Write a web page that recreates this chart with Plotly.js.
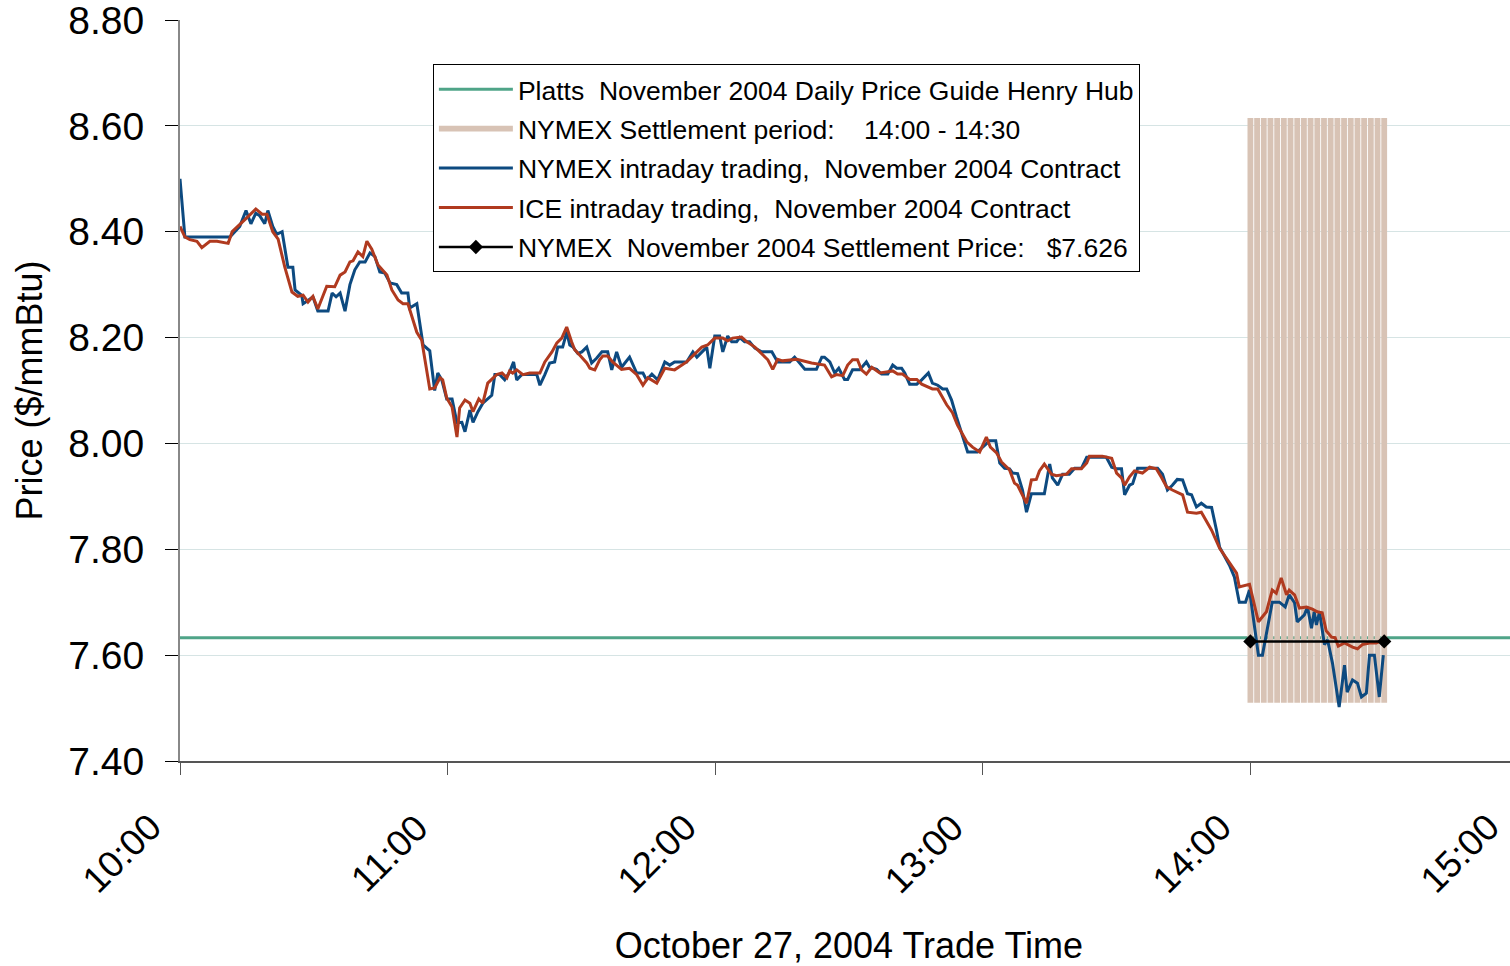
<!DOCTYPE html>
<html>
<head>
<meta charset="utf-8">
<script src="https://cdn.plot.ly/plotly-3.0.1.min.js"></script>
<style>
html, body { margin: 0; padding: 0; overflow: hidden; background: #fff; }
#chart { width: 1520px; height: 966px; }
</style>
</head>
<body>
<div id="chart"></div>
<script>
// Time is in minutes after 10:00 on October 27, 2004
const tickMinutes = [0, 60, 120, 180, 240, 300];
const tickLabels = ["10:00", "11:00", "12:00", "13:00", "14:00", "15:00"];

const seriesNames = [
  "Platts  November 2004 Daily Price Guide Henry Hub",
  "NYMEX Settlement period:    14:00 - 14:30",
  "NYMEX intraday trading,  November 2004 Contract",
  "ICE intraday trading,  November 2004 Contract",
  "NYMEX  November 2004 Settlement Price:   $7.626"
];

// Platts daily price guide (flat across the day)
const plattsMin = [0, 300];
const plattsPrice = [7.633, 7.633];

// NYMEX settlement period band (14:00 - 14:30), drawn as vertical stripes
const settleStripeMin = [240, 241.5, 243, 244.5, 246, 247.5, 249, 250.5, 252, 253.5, 255,
  256.5, 258, 259.5, 261, 262.5, 264, 265.5, 267, 268.5, 270];
const settleBandLow = 7.51;
const settleBandHigh = 8.615;

// NYMEX intraday trading
const nymexMin = [0, 1.1, 11.2, 12.3, 13.4, 14.8, 15.9, 17.0, 17.9, 19.0, 19.7, 20.8, 21.7, 22.9,
  24.2, 25.3, 25.8, 27.3, 27.6, 28.7, 29.8, 30.9, 33.2, 34.1, 35.0, 35.9, 37.0, 38.1, 39.2, 40.3,
  41.5, 42.6, 43.7, 44.8, 45.9, 47.1, 48.6, 49.7, 51.1, 51.5, 53.1, 54.5, 56.0, 57.1, 57.8, 58.7,
  59.8, 61.0, 62.1, 63.2, 63.9, 65.0, 65.7, 66.8, 67.9, 69.9, 70.6, 71.7, 72.8, 73.9, 74.8, 75.5,
  76.6, 80.0, 80.7, 81.8, 82.9, 84.0, 84.7, 85.8, 86.7, 87.4, 88.1, 89.2, 90.1, 91.2, 92.3, 93.4,
  94.6, 95.9, 96.8, 97.9, 99.0, 100.8, 102.4, 103.8, 104.6, 105.8, 107.1, 108.7, 109.8, 110.9,
  113.6, 115.0, 115.9, 118.1, 118.8, 119.9, 121.0, 121.7, 122.8, 123.7, 124.8, 125.5, 126.6,
  127.7, 128.9, 130.4, 132.7, 134.0, 136.7, 137.8, 138.9, 140.1, 142.7, 143.9, 144.5, 145.7,
  146.8, 147.7, 149.0, 149.7, 150.8, 152.4, 153.9, 154.6, 156.2, 157.3, 158.7, 159.8, 160.7,
  161.8, 162.5, 163.6, 165.2, 166.3, 167.8, 168.7, 169.9, 171.0, 171.9, 173.0, 174.1, 175.2,
  176.6, 178.8, 180.4, 181.5, 182.9, 183.8, 184.9, 186.0, 186.7, 187.8, 188.9, 189.8, 190.9,
  193.8, 195.0, 195.6, 196.8, 197.9, 199.4, 200.6, 202.1, 203.3, 207.7, 208.9, 210.0, 211.1,
  211.8, 212.9, 213.6, 214.7, 219.2, 220.3, 221.4, 222.5, 223.6, 224.8, 225.9, 226.8, 227.9,
  229.0, 230.1, 231.3, 232.4, 233.1, 235.3, 236.4, 237.5, 238.9, 239.8, 240.9, 241.8, 242.7,
  243.8, 244.9, 246.5, 247.8, 248.7, 249.9, 250.5, 252.1, 252.8, 253.7, 254.3, 254.8, 255.5,
  256.6, 257.3, 258.4, 259.9, 261.1, 261.7, 262.9, 264.0, 264.9, 266.0, 266.7, 267.8, 268.9, 269.8];
const nymexPrice = [8.50, 8.39, 8.39, 8.40, 8.41, 8.44, 8.415, 8.435, 8.43, 8.415, 8.44, 8.41, 8.395, 8.40,
  8.333, 8.333, 8.29, 8.28, 8.264, 8.27, 8.277, 8.25, 8.25, 8.284, 8.277, 8.284, 8.25, 8.30, 8.328, 8.343,
  8.343, 8.36, 8.353, 8.324, 8.322, 8.303, 8.30, 8.284, 8.284, 8.256, 8.264, 8.186, 8.175, 8.10, 8.133, 8.12,
  8.084, 8.084, 8.039, 8.04, 8.022, 8.063, 8.04, 8.06, 8.076, 8.091, 8.13, 8.13, 8.12, 8.135, 8.154, 8.12,
  8.13, 8.13, 8.11, 8.13, 8.152, 8.154, 8.182, 8.182, 8.21, 8.186, 8.182, 8.17, 8.173, 8.182, 8.152, 8.161,
  8.173, 8.173, 8.139, 8.173, 8.144, 8.163, 8.133, 8.133, 8.12, 8.131, 8.12, 8.154, 8.148, 8.154,
  8.154, 8.173, 8.163, 8.182, 8.142, 8.203, 8.203, 8.173, 8.203, 8.192, 8.192, 8.20, 8.192,
  8.192, 8.18, 8.173, 8.173, 8.154, 8.154, 8.163, 8.152, 8.14, 8.14, 8.163, 8.163, 8.154,
  8.133, 8.142, 8.121, 8.121, 8.139, 8.139, 8.154, 8.144, 8.14, 8.131, 8.131, 8.148, 8.142,
  8.142, 8.133, 8.112, 8.112, 8.12, 8.133, 8.114, 8.11, 8.103, 8.103, 8.082, 8.05, 8.022,
  7.984, 7.984, 7.997, 8.005, 8.005, 7.963, 7.953, 7.952, 7.944, 7.943, 7.912, 7.87, 7.905,
  7.905, 7.961, 7.935, 7.921, 7.942, 7.942, 7.953, 7.953, 7.974, 7.974, 7.955, 7.952, 7.952,
  7.903, 7.921, 7.924, 7.953, 7.953, 7.942, 7.912, 7.921, 7.932, 7.931, 7.905, 7.903, 7.88,
  7.887, 7.88, 7.879, 7.836, 7.804, 7.77, 7.748, 7.70, 7.70, 7.723, 7.653, 7.60, 7.60,
  7.648, 7.70, 7.70, 7.691, 7.714, 7.699, 7.663, 7.676, 7.691, 7.651, 7.682, 7.657, 7.682,
  7.62, 7.629, 7.585, 7.502, 7.581, 7.53, 7.553, 7.547, 7.521, 7.528, 7.60, 7.60, 7.521, 7.60];

// ICE intraday trading
const iceMin = [0, 1.1, 2.2, 3.8, 4.9, 6.7, 8.3, 10.8, 11.7, 13.4, 15.2, 17.0, 18.4, 19.5, 20.8, 22.0,
  23.5, 25.1, 26.4, 27.6, 28.7, 29.8, 30.9, 32.9, 34.7, 35.9, 37.0, 38.1, 38.8, 39.9, 41.0, 41.9,
  43.0, 44.4, 46.4, 47.5, 48.9, 50.0, 51.1, 53.1, 54.2, 56.0, 57.1, 58.3, 58.9, 59.8, 61.0, 62.1,
  62.7, 63.9, 65.0, 65.7, 67.0, 67.9, 69.0, 71.0, 72.2, 73.3, 73.9, 74.6, 75.5, 76.9, 78.4, 80.7,
  81.8, 83.4, 84.5, 85.6, 86.7, 87.8, 88.5, 89.6, 91.2, 91.9, 93.0, 94.1, 94.8, 95.9, 97.0, 99.0,
  100.8, 102.4, 103.8, 104.9, 106.9, 108.7, 110.9, 113.6, 115.4, 117.0, 118.3, 119.9, 121.7,
  122.8, 123.9, 125.9, 127.1, 128.9, 130.0, 131.8, 132.9, 134.0, 135.1, 138.3, 141.6, 144.5,
  146.1, 147.2, 148.6, 149.7, 150.8, 151.9, 152.8, 153.9, 155.1, 156.9, 158.4, 159.8, 160.9,
  162.0, 163.6, 165.2, 166.3, 168.7, 169.9, 171.9, 173.2, 174.3, 176.4, 177.7, 179.3, 180.8,
  181.7, 183.1, 184.2, 186.0, 187.1, 187.8, 189.8, 190.9, 192.0, 192.7, 193.8, 195.4, 196.5,
  198.8, 199.9, 202.1, 203.3, 203.9, 206.8, 208.9, 210.0, 211.1, 211.8, 212.9, 214.0, 215.8,
  217.4, 218.9, 220.1, 221.2, 222.5, 224.8, 225.9, 227.9, 229.0, 230.1, 231.3, 233.1, 235.3,
  236.9, 237.5, 239.8, 241.8, 243.6, 244.9, 245.8, 246.9, 248.1, 248.7, 249.9, 251.0, 252.6,
  253.9, 255.0, 256.1, 257.0, 258.2, 259.0, 259.7, 261.1, 262.9, 264.0, 265.1, 266.7, 268.2, 269.4];
const icePrice = [8.41, 8.39, 8.385, 8.382, 8.37, 8.382, 8.382, 8.378, 8.40, 8.413, 8.428, 8.443, 8.433, 8.433, 8.40, 8.386,
  8.333, 8.286, 8.278, 8.28, 8.267, 8.278, 8.254, 8.297, 8.296, 8.318, 8.324, 8.343, 8.345, 8.362, 8.353, 8.382,
  8.367, 8.337, 8.318, 8.29, 8.271, 8.264, 8.264, 8.21, 8.195, 8.103, 8.105, 8.124, 8.12, 8.086, 8.069, 8.012,
  8.067, 8.082, 8.076, 8.06, 8.084, 8.076, 8.114, 8.13, 8.133, 8.124, 8.137, 8.133, 8.139, 8.13, 8.133, 8.133,
  8.154, 8.173, 8.19, 8.199, 8.22, 8.192, 8.177, 8.167, 8.152, 8.142, 8.139, 8.158, 8.165, 8.165, 8.154, 8.14,
  8.142, 8.13, 8.11, 8.124, 8.114, 8.142, 8.139, 8.154, 8.169, 8.182, 8.186, 8.199, 8.199,
  8.194, 8.199, 8.201, 8.192, 8.182, 8.173, 8.158, 8.14, 8.159, 8.156, 8.159, 8.152, 8.148,
  8.126, 8.13, 8.128, 8.148, 8.158, 8.158, 8.139, 8.131, 8.144, 8.133, 8.135, 8.137, 8.131,
  8.131, 8.121, 8.121, 8.112, 8.103, 8.103, 8.073, 8.058, 8.035, 8.003, 7.993, 7.984, 8.012,
  7.993, 7.982, 7.965, 7.95, 7.925, 7.921, 7.887, 7.931, 7.932, 7.948, 7.961, 7.942, 7.939,
  7.942, 7.952, 7.952, 7.963, 7.976, 7.976, 7.972, 7.944, 7.935, 7.921, 7.937, 7.948, 7.944,
  7.955, 7.952, 7.935, 7.918, 7.912, 7.903, 7.87, 7.868, 7.87, 7.855, 7.836, 7.802, 7.774,
  7.755, 7.729, 7.734, 7.663, 7.682, 7.723, 7.717, 7.746, 7.714, 7.723, 7.714, 7.689, 7.691,
  7.687, 7.682, 7.68, 7.646, 7.634, 7.633, 7.617, 7.623, 7.615, 7.612, 7.62, 7.623, 7.623, 7.627];

// NYMEX settlement price over the settlement period
const settleMin = [240, 270];
const settlePrice = [7.626, 7.626];

// Build stripe path for the settlement band
const bandX = [], bandY = [];
settleStripeMin.forEach(t => {
  bandX.push(t, t, null);
  bandY.push(settleBandLow, settleBandHigh, null);
});

const FONT = "Liberation Sans, Arial, Helvetica, sans-serif";

const traces = [
  { x: plattsMin, y: plattsPrice, name: seriesNames[0], mode: "lines", legendgroup: "g1",
    line: { color: "#4fa488", width: 3 } },
  { x: bandX, y: bandY, name: seriesNames[1], mode: "lines", connectgaps: false, legendgroup: "g2",
    line: { color: "#d8c3b5", width: 5.8 } },
  { x: nymexMin, y: nymexPrice, name: seriesNames[2], mode: "lines", legendgroup: "g3",
    line: { color: "#0d4a80", width: 3 } },
  { x: iceMin, y: icePrice, name: seriesNames[3], mode: "lines", legendgroup: "g4",
    line: { color: "#b03a1f", width: 3 } },
  { x: settleMin, y: settlePrice, name: seriesNames[4], mode: "lines+markers", legendgroup: "g5",
    line: { color: "#000000", width: 2.5 },
    marker: { symbol: "diamond", size: 11, color: "#000000" } }
];

// Rotated hour labels, placed along the time axis
const hourLabels = tickMinutes.map((m, i) => ({
  x: m, xref: "x", y: -0.1255, yref: "paper",
  text: tickLabels[i], showarrow: false, textangle: -45,
  xanchor: "center", yanchor: "middle", xshift: -58,
  font: { size: 37, family: FONT, color: "#000000" }
}));

const layout = {
  width: 1520, height: 966,
  margin: { l: 180, r: 2, t: 20, b: 205 },
  paper_bgcolor: "#ffffff", plot_bgcolor: "#ffffff",
  font: { family: FONT, color: "#000000" },
  showlegend: true,
  legend: {
    x: 0.189, y: 0.94, xanchor: "left", yanchor: "top",
    bgcolor: "#ffffff", bordercolor: "#000000", borderwidth: 1,
    font: { size: 26.5, family: FONT, color: "#000000" },
    tracegroupgap: 2, itemwidth: 74
  },
  annotations: hourLabels,
  xaxis: {
    range: [0, 300], tickmode: "array", tickvals: tickMinutes, ticktext: tickLabels,
    showticklabels: false,
    ticks: "outside", ticklen: 12, tickcolor: "#555555", tickwidth: 1,
    showline: true, linecolor: "#555555", linewidth: 1.5,
    showgrid: false, zeroline: false,
    title: { text: "October 27, 2004 Trade Time", font: { size: 36, family: FONT, color: "#000000" }, standoff: 162 }
  },
  yaxis: {
    range: [7.4, 8.8], tickmode: "array",
    tickvals: [7.4, 7.6, 7.8, 8.0, 8.2, 8.4, 8.6, 8.8],
    ticktext: ["7.40", "7.60", "7.80", "8.00", "8.20", "8.40", "8.60", "8.80"],
    ticks: "outside", ticklen: 13, tickcolor: "#000000", tickwidth: 1,
    showline: true, linecolor: "#888888", linewidth: 2,
    showgrid: true, gridcolor: "#d6e4e4", gridwidth: 1,
    zeroline: false, ticklabeloverflow: "allow",
    tickfont: { size: 39, family: FONT, color: "#000000" },
    ticklabelstandoff: 13,
    title: { text: "Price ($/mmBtu)", font: { size: 36, family: FONT, color: "#000000" }, standoff: 15 }
  }
};

Plotly.newPlot("chart", traces, layout, { displayModeBar: false, staticPlot: true });
</script>
</body>
</html>
